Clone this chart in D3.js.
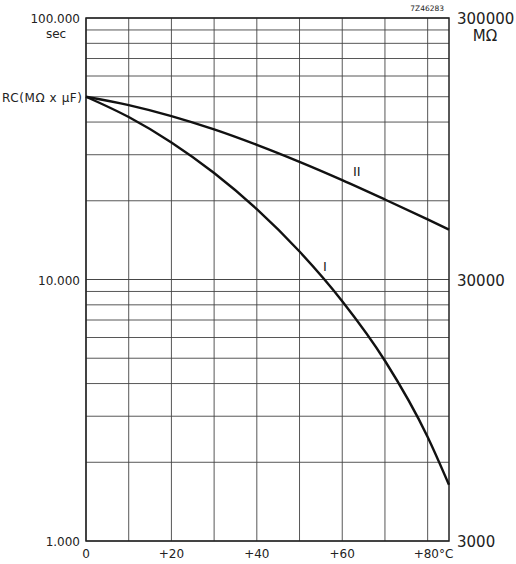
<!DOCTYPE html>
<html>
<head>
<meta charset="utf-8">
<script src="https://cdn.jsdelivr.net/npm/d3@7"></script>
<style>
  body { margin: 0; background: #fff; }
  text { font-family: "DejaVu Sans", sans-serif; fill: #222; }
</style>
</head>
<body>
<svg width="516" height="564"></svg>
<script>
// temperature (deg C)
const temps = [0, 10, 20, 30, 40, 50, 60, 70, 80, 85];
// RC in sec, curve I
const curveI = [50000, 41800, 33420, 25530, 18580, 12790, 8260, 4890, 2500, 1640];
// RC in sec, curve II
const curveII = [50000, 46450, 42170, 37500, 32730, 28180, 23990, 20230, 16980, 15520];
const xTicks = [0, 20, 40, 60, 80];
const xTickLabels = ['0', '+20', '+40', '+60', '+80°C'];
const leftTicks = [1000, 10000, 100000];
const leftTickLabels = ['1.000', '10.000', '100.000'];
const rightTickLabels = ['3000', '30000', '300000'];

const svg = d3.select('svg');
const padL = 86, padR = 449, padT = 18, padB = 541;

const x = d3.scaleLinear().domain([0, 85]).range([padL, padR]);
const y = d3.scaleLog().domain([1000, 100000]).range([padB, padT]);

// grid lines
const hLines = [];
[1000, 10000].forEach(dec => { for (let i = 1; i <= 10; i++) hLines.push(dec * i); });
svg.append('g').selectAll('line').data(hLines).join('line')
    .attr('x1', padL).attr('x2', padR)
    .attr('y1', d => y(d)).attr('y2', d => y(d))
    .attr('stroke', '#444').attr('stroke-width', 0.9);

svg.append('g').selectAll('line').data(d3.range(0, 81, 10)).join('line')
    .attr('y1', padT).attr('y2', padB)
    .attr('x1', d => x(d)).attr('x2', d => x(d))
    .attr('stroke', '#444').attr('stroke-width', 0.9);

// frame
svg.append('rect')
    .attr('x', padL).attr('y', padT)
    .attr('width', padR - padL).attr('height', padB - padT)
    .attr('fill', 'none').attr('stroke', '#222').attr('stroke-width', 1.5);

// curves
const line = d3.line()
    .x((d, i) => x(temps[i]))
    .y(d => y(d))
    .curve(d3.curveMonotoneX);

[curveI, curveII].forEach(c => {
    svg.append('path')
        .attr('d', line(c))
        .attr('fill', 'none')
        .attr('stroke', '#111')
        .attr('stroke-width', 2.4);
});

// curve labels
svg.append('text').attr('x', x(62.5)).attr('y', y(curveII[6]) - 4)
    .attr('font-family', 'DejaVu Serif').attr('font-size', 13).text('II');
svg.append('text').attr('x', x(55.5)).attr('y', y(10800))
    .attr('font-family', 'DejaVu Serif').attr('font-size', 13).text('I');

// left axis labels
svg.append('g').selectAll('text').data(leftTicks).join('text')
    .attr('x', 80).attr('y', d => y(d) + 5)
    .attr('text-anchor', 'end').attr('font-size', 12)
    .text((d, i) => leftTickLabels[i]);
svg.append('text').attr('x', 56).attr('y', 38)
    .attr('text-anchor', 'middle').attr('font-size', 12).text('sec');
svg.append('text').attr('x', 2).attr('y', y(50000) + 5)
    .attr('font-size', 12).attr('textLength', 80).text('RC(MΩ x μF)');

// right axis labels
svg.append('g').selectAll('text').data(leftTicks).join('text')
    .attr('x', 457).attr('y', d => y(d) + 6)
    .attr('font-size', 15)
    .text((d, i) => rightTickLabels[i]);
svg.append('text').attr('x', 485).attr('y', 41)
    .attr('text-anchor', 'middle').attr('font-size', 15).text('MΩ');

// x axis labels
svg.append('g').selectAll('text').data(xTicks).join('text')
    .attr('x', d => x(d)).attr('y', 558)
    .attr('text-anchor', (d, i) => i === xTicks.length - 1 ? 'start' : 'middle')
    .attr('dx', (d, i) => i === xTicks.length - 1 ? -14 : 0)
    .attr('font-size', 12)
    .text((d, i) => xTickLabels[i]);

// figure code
svg.append('text').attr('x', 444).attr('y', 11)
    .attr('text-anchor', 'end').attr('font-size', 7.5).attr('fill', '#555').text('7Z46283');
</script>
</body>
</html>
